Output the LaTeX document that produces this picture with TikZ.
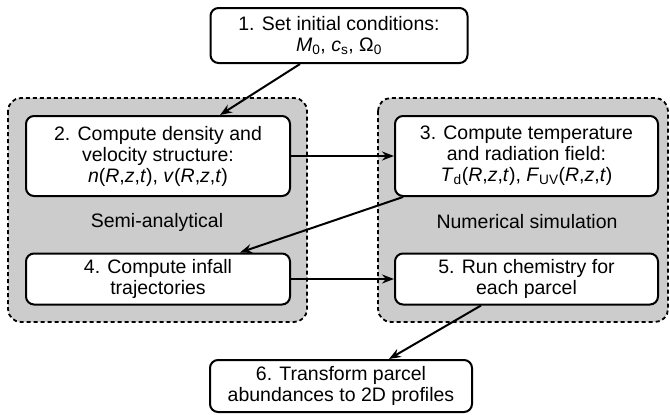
\documentclass[tikz,border=0pt]{standalone}
\usepackage{fontspec}
\setmainfont{Liberation Sans}
\usepackage{tikz}
\usetikzlibrary{arrows.meta}

\newcommand{\iv}[1]{\textit{#1}}
\newcommand{\rzt}{(\iv{R},\iv{z},\iv{t})}

\begin{document}
\begin{tikzpicture}[x=1pt, y=-1pt,
    stepbox/.style={draw, line width=2pt, rounded corners=8pt, fill=white, align=center,
        inner sep=0pt, font=\fontsize{19.5}{21}\selectfont},
    groupbox/.style={draw, line width=1.8pt, dash pattern=on 4pt off 3pt, rounded corners=13pt, fill=black!20},
    grouplabel/.style={font=\fontsize{19.5}{21}\selectfont},
    flow/.style={-{Stealth[length=12pt, width=9pt, inset=4pt]}, line width=2pt}]
    \useasboundingbox (0,0) rectangle (670,415);
    % Gruppen
    \filldraw[groupbox] (8,98) rectangle (307,322);
    \filldraw[groupbox] (378,98) rectangle (668,322);
    \node[grouplabel] (semi) at (157,222) {Semi-analytical};
    \node[grouplabel] (num) at (527,222) {Numerical simulation};
    % Schritte
    \node[stepbox, minimum width=257pt, minimum height=55pt] (s1) at (339,35.5)
        {1. Set initial conditions:\\ \iv{M}\textsubscript{0}, \iv{c}\textsubscript{s}, Ω\textsubscript{0}};
    \node[stepbox, minimum width=264pt, minimum height=80pt] (s2) at (158,156)
        {2. Compute density and\\ velocity structure:\\ \iv{n}\rzt, \iv{v}\rzt};
    \node[stepbox, minimum width=263pt, minimum height=80pt] (s3) at (526.5,156)
        {3. Compute temperature\\ and radiation field:\\ \iv{T}\textsubscript{d}\rzt, \iv{F}\textsubscript{UV}\rzt};
    \node[stepbox, minimum width=264pt, minimum height=51pt] (s4) at (158,279)
        {4. Compute infall\\ trajectories};
    \node[stepbox, minimum width=263pt, minimum height=51pt] (s5) at (526.5,279)
        {5. Run chemistry for\\ each parcel};
    \node[stepbox, minimum width=262pt, minimum height=52pt] (s6) at (341,386)
        {6. Transform parcel\\ abundances to 2D profiles};
    % Pfeile
    \draw[flow] (s1.south -| 300,0) -- (s2.north -| 220,0);
    \draw[flow] (s2.east) -- (s3.west);
    \draw[flow] (s3.south -| 403,0) -- (s4.north -| 240,0);
    \draw[flow] (s4.east) -- (s5.west);
    \draw[flow] (s5.south -| 481,0) -- (s6.north -| 389,0);
\end{tikzpicture}
\end{document}
